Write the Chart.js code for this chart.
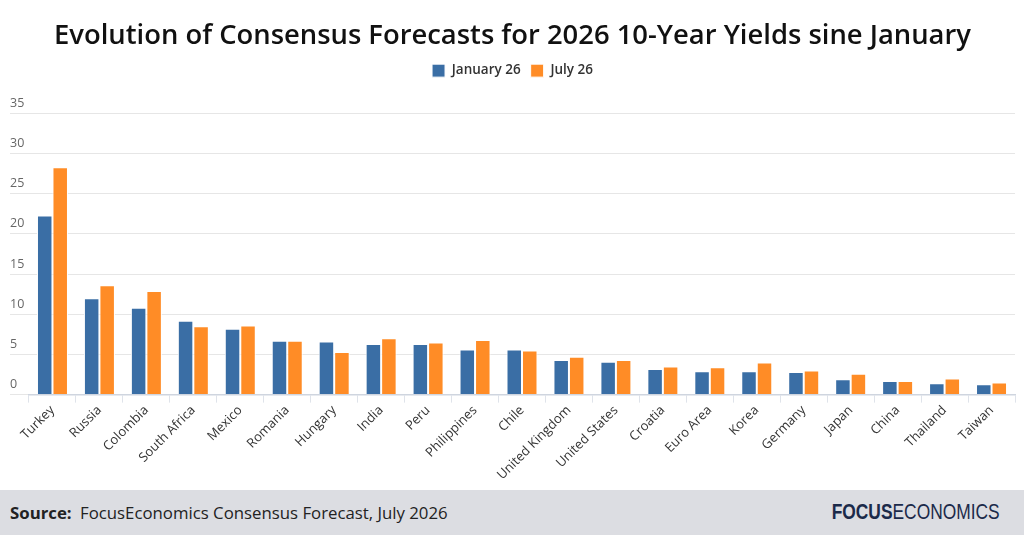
<!DOCTYPE html>
<html>
<head>
<meta charset="utf-8">
<script src="https://cdn.jsdelivr.net/npm/chart.js@4.4.1/dist/chart.umd.min.js"></script>
<style>
  html, body { margin: 0; padding: 0; background: #fff; }
  body { width: 1024px; height: 535px; overflow: hidden; position: relative; font-family: "Open Sans", sans-serif; }
  #wrap { position: absolute; left: 0; top: 0; width: 1024px; height: 490px; }
  #footer { position: absolute; left: 0; top: 490px; width: 1024px; height: 45px; background: #dcdde2; }
  #source { position: absolute; left: 10px; top: 11px; font-size: 16.8px; color: #222; }
  #source b { font-weight: 700; margin-right: 4px; }
  #logo { position: absolute; right: 24px; top: 9px; font-family: "Liberation Sans Narrow", "Liberation Sans", sans-serif; font-size: 22px; color: #1b2a4a; transform: scaleX(0.79); transform-origin: right center; white-space: nowrap; }
  #logo b { font-weight: 700; }
  #logo span { font-weight: 400; }
</style>
</head>
<body>
<div id="wrap"><canvas id="chart"></canvas></div>
<div id="footer">
  <div id="source"><b>Source:</b> FocusEconomics Consensus Forecast, July 2026</div>
  <div id="logo"><b>FOCUS</b><span>ECONOMICS</span></div>
</div>
<script>
// countries, sorted as in the original
const countries = ["Turkey", "Russia", "Colombia", "South Africa", "Mexico", "Romania", "Hungary", "India", "Peru",
    "Philippines", "Chile", "United Kingdom", "United States", "Croatia", "Euro Area", "Korea", "Germany",
    "Japan", "China", "Thailand", "Taiwan"];

// 2026 10-year yield forecasts (%)
const january_26 = [22.3, 12.0, 10.8, 9.2, 8.2, 6.7, 6.6, 6.3, 6.3, 5.6, 5.6, 4.3, 4.1, 3.2, 2.9, 2.9, 2.8, 1.9, 1.7, 1.4, 1.3];
const july_26 = [28.3, 13.6, 12.9, 8.5, 8.6, 6.7, 5.3, 7.0, 6.5, 6.8, 5.5, 4.7, 4.3, 3.5, 3.4, 4.0, 3.0, 2.6, 1.7, 2.0, 1.5];

const y_ticks = [0, 5, 10, 15, 20, 25, 30, 35];

const BLUE = "#3a6ea5";
const ORANGE = "#ff8c26";

// push the plot area down a bit below the legend
const legend_gap = {
    id: "legend_gap",
    beforeInit(chart) {
        const fit = chart.legend.fit;
        chart.legend.fit = function () {
            fit.bind(chart.legend)();
            this.height += 26;
        };
    }
};

new Chart(document.getElementById("chart"), {
    type: "bar",
    data: {
        labels: countries,
        datasets: [
            { label: "January 26", data: january_26, backgroundColor: BLUE, borderColor: "#ffffff", borderWidth: 1 },
            { label: "July 26", data: july_26, backgroundColor: ORANGE, borderColor: "#ffffff", borderWidth: 1 }
        ]
    },
    plugins: [legend_gap],
    options: {
        responsive: true,
        maintainAspectRatio: false,
        animation: false,
        categoryPercentage: 0.66,
        barPercentage: 1.0,
        layout: { padding: { left: 10, right: 9, top: 0, bottom: 7 } },
        plugins: {
            title: {
                display: true,
                text: "Evolution of Consensus Forecasts for 2026 10-Year Yields sine January",
                color: "#111",
                font: { family: "Open Sans", size: 27.4, weight: "600" },
                padding: { top: 20, bottom: 1 }
            },
            legend: {
                display: true,
                labels: {
                    boxWidth: 13,
                    boxHeight: 13,
                    color: "#333",
                    font: { family: "Open Sans", size: 13.5, weight: "600" },
                    padding: 10
                }
            },
            tooltip: { enabled: false }
        },
        scales: {
            x: {
                grid: { drawOnChartArea: false, drawTicks: true, tickLength: 8, color: "#dfe3ea", offset: true },
                border: { color: "#cfd5df", width: 1.5 },
                ticks: {
                    color: "#333",
                    font: { family: "Open Sans", size: 13 },
                    maxRotation: 45,
                    minRotation: 45,
                    autoSkip: false,
                    padding: 0
                }
            },
            y: {
                min: 0,
                max: 35,
                afterFit: (scale) => { scale.width = 19; },
                afterBuildTicks: (scale) => { scale.ticks = y_ticks.map(v => ({ value: v })); },
                grid: { color: "#e6e6e6", tickLength: 19, drawTicks: true },
                border: { display: false },
                ticks: {
                    color: "#666",
                    font: { family: "Open Sans", size: 12.5 },
                    crossAlign: "far",
                    labelOffset: -10,
                    padding: 0
                }
            }
        }
    }
});
</script>
</body>
</html>
